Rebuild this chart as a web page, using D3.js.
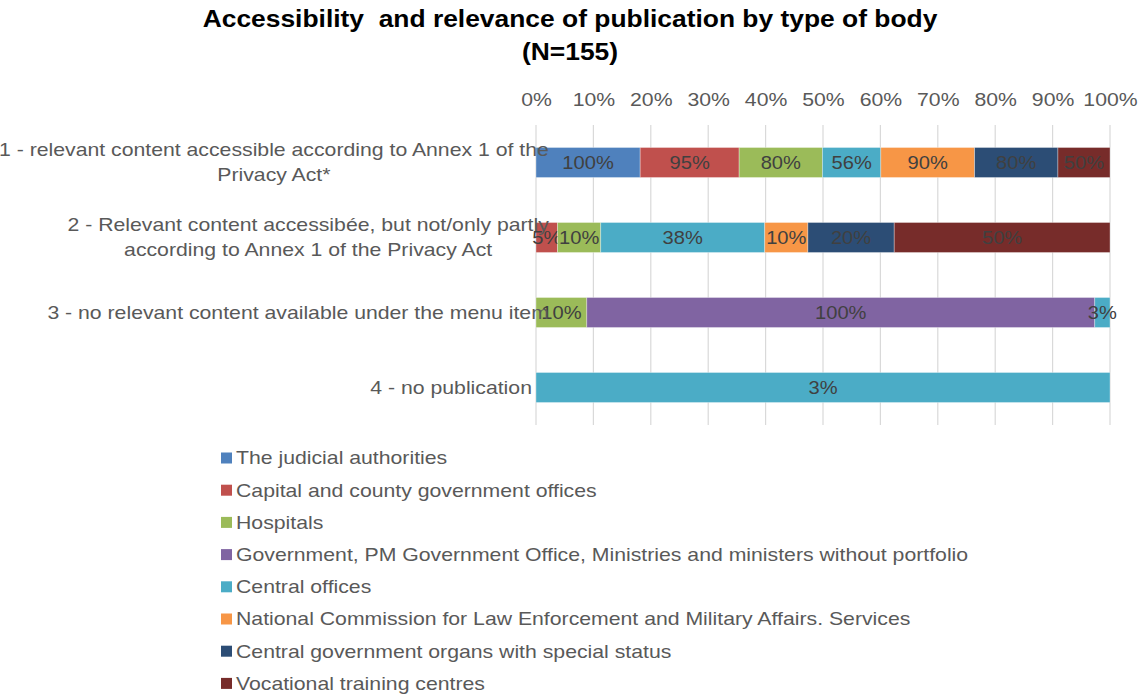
<!DOCTYPE html>
<html>
<head>
<meta charset="utf-8">
<script src="https://cdn.jsdelivr.net/npm/d3@7"></script>
<style>
  html, body { margin: 0; padding: 0; background: #fff; }
  svg { display: block; }
  text { font-family: "Liberation Sans", Arial, sans-serif; }
</style>
</head>
<body>
<svg id="chart" width="1139" height="695"></svg>
<script>
// Response categories (wrapped as in the printed report)
const categoryLines = [
  ["1 - relevant content accessible according to Annex 1 of the", "Privacy Act*"],
  ["2 - Relevant content accessibée, but not/only partly", "according to Annex 1 of the Privacy Act"],
  ["3 - no relevant content available under the menu item"],
  ["4 - no publication"]
];

// Types of body (series)
const bodyTypes = [
  "The judicial authorities",
  "Capital and county government offices",
  "Hospitals",
  "Government, PM Government Office, Ministries and ministers without portfolio",
  "Central offices",
  "National Commission for Law Enforcement and Military Affairs. Services",
  "Central government organs with special status",
  "Vocational training centres"
];

const bodyColors = ["#4F81BD", "#C0504D", "#9BBB59", "#8064A2", "#4BACC6", "#F79646", "#2C4D75", "#772C2A"];

// Share (%) of each body type in each category; 0 = not present
const judicial    = [100, 0, 0, 0];
const capital     = [95, 5, 0, 0];
const hospitals   = [80, 10, 10, 0];
const government  = [0, 0, 100, 0];
const central     = [56, 38, 3, 3];
const national    = [90, 10, 0, 0];
const specialOrgs = [80, 20, 0, 0];
const vocational  = [50, 50, 0, 0];

const seriesValues = [judicial, capital, hospitals, government, central, national, specialOrgs, vocational];

const tickValues = [0, 0.1, 0.2, 0.3, 0.4, 0.5, 0.6, 0.7, 0.8, 0.9, 1];

const titleLines = ["Accessibility  and relevance of publication by type of body", "(N=155)"];

// ---------------------------------------------------------------
const SX = 1.18;               // horizontal stretch of the body lettering
const SX_TITLE = 1.1;
const SX_LABEL = 1.15;
const textColor = "#595959";
const labelColor = "#404040";

const svg = d3.select("#chart");

const rows = categoryLines.map((lines, i) => {
  const r = { key: i };
  bodyTypes.forEach((b, j) => { r[b] = seriesValues[j][i]; });
  return r;
});

const stack = d3.stack().keys(bodyTypes).offset(d3.stackOffsetExpand);
const stacked = stack(rows);

const margin = { left: 536, right: 29, top: 125, bottom: 270 };
const x = d3.scaleLinear().domain([0, 1]).range([margin.left, 1139 - margin.right]);
const y = d3.scaleBand().domain(d3.range(categoryLines.length)).range([margin.top, 695 - margin.bottom]).paddingInner(0.6).paddingOuter(0.3);

function stretched(sel, px, py, sx = SX) {
  return sel.attr("transform", `translate(${px},${py}) scale(${sx},1)`);
}

// Title
titleLines.forEach((t, i) => {
  stretched(svg.append("text"), 570, 27 + i * 33, SX_TITLE)
    .attr("text-anchor", "middle")
    .style("white-space", "pre")
    .attr("font-size", 24)
    .attr("font-weight", "bold")
    .attr("fill", "#000")
    .text(t);
});

// Gridlines
svg.append("g")
  .selectAll("line")
  .data(tickValues)
  .join("line")
  .attr("x1", d => x(d)).attr("x2", d => x(d))
  .attr("y1", margin.top).attr("y2", 695 - margin.bottom)
  .attr("stroke", "#D9D9D9").attr("stroke-width", 1.2);

// Top axis labels
const axis = d3.axisTop(x).tickValues(tickValues).tickFormat(d3.format(".0%")).tickSize(0);
const axisG = svg.append("g").attr("transform", `translate(0,${margin.top - 19})`).call(axis);
axisG.select(".domain").remove();
axisG.selectAll(".tick text")
  .attr("font-size", 18)
  .attr("font-family", "'Liberation Sans', Arial, sans-serif")
  .attr("fill", textColor)
  .attr("transform", `scale(${SX},1)`)
  .attr("x", 0).attr("y", 0);

// Bars
const layers = svg.append("g")
  .selectAll("g")
  .data(stacked)
  .join("g")
  .attr("fill", (d, i) => bodyColors[i]);

layers.selectAll("rect")
  .data(d => d.filter(s => s[1] > s[0]))
  .join("rect")
  .attr("x", d => x(d[0]))
  .attr("width", d => x(d[1]) - x(d[0]))
  .attr("y", d => y(d.data.key))
  .attr("height", y.bandwidth())
  .attr("stroke", "#fff").attr("stroke-opacity", 0.4).attr("stroke-width", 0.8);

// Category labels: lines centred within a right-aligned block
categoryLines.forEach((lines, i) => {
  const g = svg.append("g");
  const lh = 25;
  const cy = y(i) + y.bandwidth() / 2;
  const texts = lines.map((ln, k) => {
    const t = g.append("text")
      .attr("text-anchor", "middle")
      .attr("font-size", 18)
      .attr("fill", textColor)
      .attr("dy", "0.35em")
      .text(ln);
    return { t, w: t.node().getComputedTextLength() * SX, k };
  });
  const blockW = d3.max(texts, d => d.w);
  const right = blockW > 400 ? x(0) + 13 : x(0) - 4;
  const cx = right - blockW / 2;
  texts.forEach(({ t, k }) => {
    stretched(t, cx, cy + (k - (lines.length - 1) / 2) * lh);
  });
});

// Data labels (value of each body type)
layers.each(function (layer) {
  d3.select(this).selectAll("text")
    .data(layer.filter(s => s[1] > s[0]))
    .join("text")
    .attr("text-anchor", "middle")
    .attr("dy", "0.35em")
    .attr("font-size", 17.5)
    .attr("fill", labelColor)
    .text(d => d.data[layer.key] + "%")
    .each(function (d) {
      stretched(d3.select(this), (x(d[0]) + x(d[1])) / 2, y(d.data.key) + y.bandwidth() / 2, SX_LABEL);
    });
});

// Legend
const legend = svg.append("g");
bodyTypes.forEach((b, i) => {
  const ly = 458 + i * 32.2;
  legend.append("rect")
    .attr("x", 221).attr("y", ly - 5.5)
    .attr("width", 11).attr("height", 11)
    .attr("fill", bodyColors[i]);
  stretched(legend.append("text"), 236, ly)
    .attr("dy", "0.35em")
    .attr("font-size", 18)
    .attr("fill", textColor)
    .text(b);
});
</script>
</body>
</html>
